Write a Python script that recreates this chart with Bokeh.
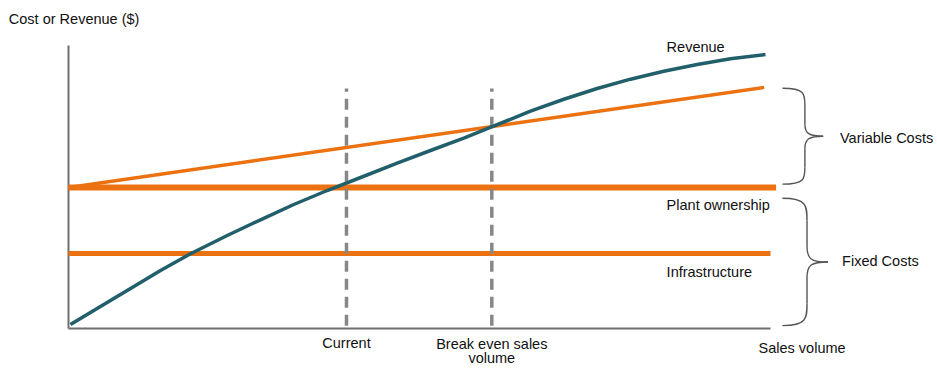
from bokeh.plotting import figure
from bokeh.embed import file_html
from bokeh.resources import INLINE
from bokeh.models import Range1d
from bokeh.core.properties import value

# ---- data (sales volume 0-100, cost/revenue 0-100) ----
revenue_x = [0.28, 3.60, 8.36, 13.11, 17.38, 22.61, 27.35, 32.09, 36.85,
             42.07, 46.82, 51.57, 56.31, 60.36, 65.81, 70.56, 75.31, 80.06,
             84.80, 89.56, 94.30, 99.29]
revenue_y = [1.41, 6.36, 13.43, 20.49, 26.40, 32.86, 38.41, 43.82, 48.76,
             53.80, 58.41, 62.90, 67.25, 71.30, 76.80, 81.00, 84.80, 88.10,
             90.90, 93.29, 95.30, 96.82]
variable_x = [0.0, 99.1]
variable_y = [49.8, 85.2]
plant_x = [0.0, 100.8]
plant_y = 49.8
infra_x = [0.0, 100.0]
infra_y = 26.5
current_x = 39.6
breakeven_x = 60.3
marker_top = 84.8
axis_x_end = 100.0
axis_y_end = 100.0

TEAL = "#215f6b"
ORANGE = "#ec7211"
GRAY = "#878787"
AXIS = "#6e6e6e"
TXT = "#111111"
FONT = value("Liberation Sans")

# pixel mapping: x px = 68 + 7.02*x ; y px = 328 - 2.83*y
p = figure(width=937, height=368, output_backend="svg", toolbar_location=None,
           x_range=Range1d(-68 / 7.02, (937 - 68) / 7.02),
           y_range=Range1d(-(368 - 328) / 2.83, 328 / 2.83),
           min_border=0, outline_line_color=None)
p.axis.visible = False
p.grid.visible = False
p.background_fill_color = "white"
p.border_fill_color = "white"

# axes lines
p.line([0, 0], [0, axis_y_end], line_color=AXIS, line_width=2)
p.line([0, axis_x_end], [0, 0], line_color=AXIS, line_width=2)

# fixed cost lines
p.line(infra_x, [infra_y, infra_y], line_color=ORANGE, line_width=5)
p.line(plant_x, [plant_y, plant_y], line_color=ORANGE, line_width=6)
# variable costs
p.line(variable_x, variable_y, line_color=ORANGE, line_width=3.5)

# dashed markers
p.segment(x0=[current_x, breakeven_x], y0=[1.0, 1.0],
          x1=[current_x, breakeven_x], y1=[marker_top, marker_top],
          line_color=GRAY, line_width=3.5, line_dash="11 7")

# revenue
p.line(revenue_x, revenue_y, line_color=TEAL, line_width=3.5,
       line_join="round")


# braces
def brace(y_top, y_bot, x_left, x_spine, x_tip):
    ym = (y_top + y_bot) / 2
    c = "#555555"
    p.bezier(x0=[x_left], y0=[y_top], x1=[x_spine], y1=[y_top - (y_top - ym) * 0.35],
             cx0=[x_spine], cy0=[y_top], cx1=[x_spine], cy1=[y_top - (y_top - ym) * 0.12],
             line_color=c, line_width=1.4)
    p.line([x_spine, x_spine], [y_top - (y_top - ym) * 0.35, ym + (y_top - ym) * 0.25],
           line_color=c, line_width=1.4)
    p.bezier(x0=[x_spine], y0=[ym + (y_top - ym) * 0.25], x1=[x_tip], y1=[ym],
             cx0=[x_spine], cy0=[ym + 1], cx1=[x_spine + 0.6], cy1=[ym],
             line_color=c, line_width=1.4)
    p.bezier(x0=[x_tip], y0=[ym], x1=[x_spine], y1=[ym - (ym - y_bot) * 0.25],
             cx0=[x_spine + 0.6], cy0=[ym], cx1=[x_spine], cy1=[ym - 1],
             line_color=c, line_width=1.4)
    p.line([x_spine, x_spine], [ym - (ym - y_bot) * 0.25, y_bot + (ym - y_bot) * 0.35],
           line_color=c, line_width=1.4)
    p.bezier(x0=[x_spine], y0=[y_bot + (ym - y_bot) * 0.35], x1=[x_left], y1=[y_bot],
             cx0=[x_spine], cy0=[y_bot + (ym - y_bot) * 0.12], cx1=[x_spine], cy1=[y_bot],
             line_color=c, line_width=1.4)


brace(variable_y[1] - 0.3, plant_y + 1.2, 101.7, 104.9, 107.5)
brace(plant_y - 3.8, 1.0, 101.7, 105.2, 108.2)


def label(x, y, t, align="left", size="14.5px"):
    p.text(x=[x], y=[y], text=[t], text_font=FONT, text_font_size=size,
           text_color=TXT, text_align=align, text_baseline="middle")


label(-8.5, 109.5, "Cost or Revenue ($)")
label(85.2, 99.3, "Revenue")
label(85.2, 43.8, "Plant ownership")
label(85.2, 20.0, "Infrastructure")
label(109.9, 67.3, "Variable Costs")
label(110.2, 24.0, "Fixed Costs")
label(98.3, -6.9, "Sales volume")
label(current_x, -5.0, "Current", align="center")
label(breakeven_x, -5.5, "Break even sales", align="center")
label(breakeven_x, -10.6, "volume", align="center")

open("out.html", "w").write(file_html(p, INLINE))
